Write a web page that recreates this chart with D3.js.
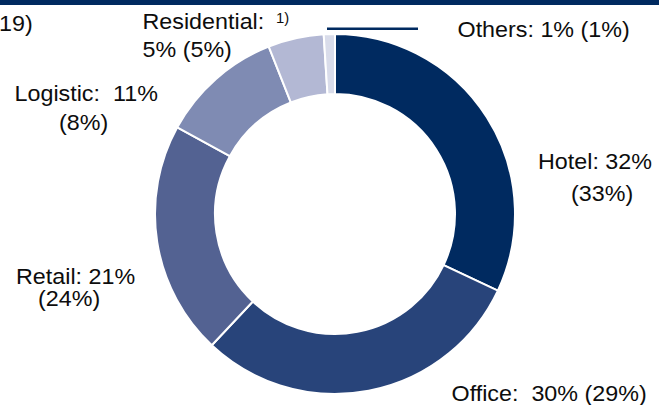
<!DOCTYPE html>
<html><head><meta charset="utf-8">
<script src="https://cdn.jsdelivr.net/npm/d3@7"></script>
<style>
html,body{margin:0;padding:0;background:#fff;overflow:hidden}
svg text{font-family:"Liberation Sans",Arial,sans-serif;fill:#0d0d0d;white-space:pre}
</style></head>
<body><svg id="c" width="659" height="405"></svg>
<script>
const categories = ["Hotel","Office","Retail","Logistic","Residential","Others"];
const shares = [32,30,21,11,5,1];
const prevShares = [33,29,24,8,5,1];
const colors = ["#002a60","#28447a","#536292","#7f8bb3","#b3b8d4","#d9dcea"];

const svg = d3.select("#c");
const W=659,H=405, cx=335, cy=214, R=180, r=120;

svg.append("rect").attr("x",0).attr("y",0).attr("width",W).attr("height",5).attr("fill","#002a60");
svg.append("line").attr("x1",327).attr("x2",418).attr("y1",28.7).attr("y2",28.7)
  .attr("stroke","#002a60").attr("stroke-width",2.5);

const pie = d3.pie().sort(null).value(d=>d);
const arc = d3.arc().innerRadius(r).outerRadius(R);
const g = svg.append("g").attr("transform",`translate(${cx},${cy})`);
g.selectAll("path").data(pie(shares)).join("path")
  .attr("d",arc).attr("fill",(d,i)=>colors[i])
  .attr("stroke","#fff").attr("stroke-width",2);

const fs = 22, sx = 1.06;
function label(x,y,txt,size){
  svg.append("text").attr("transform",`translate(${x},${y}) scale(${sx},1)`)
    .attr("font-size",size||fs).text(txt);
}
const pct = i => shares[i]+"%";
const prev = i => "("+prevShares[i]+"%)";

label(-1,30.5,"19)");
label(142.5,28.5,categories[4]+":");
label(276,23,"1)",14);
label(142.5,56.7,pct(4)+" "+prev(4));
label(14.5,101,categories[3]+":  "+pct(3));
label(59,130,prev(3));
label(457.5,37,categories[5]+": "+pct(5)+" "+prev(5));
label(538,169,categories[0]+": "+pct(0));
label(571,201,prev(0));
label(16,284.3,categories[2]+": "+pct(2));
label(38,305.5,prev(2));
label(451.5,401,categories[1]+":  "+pct(1)+" "+prev(1));
</script></body></html>
